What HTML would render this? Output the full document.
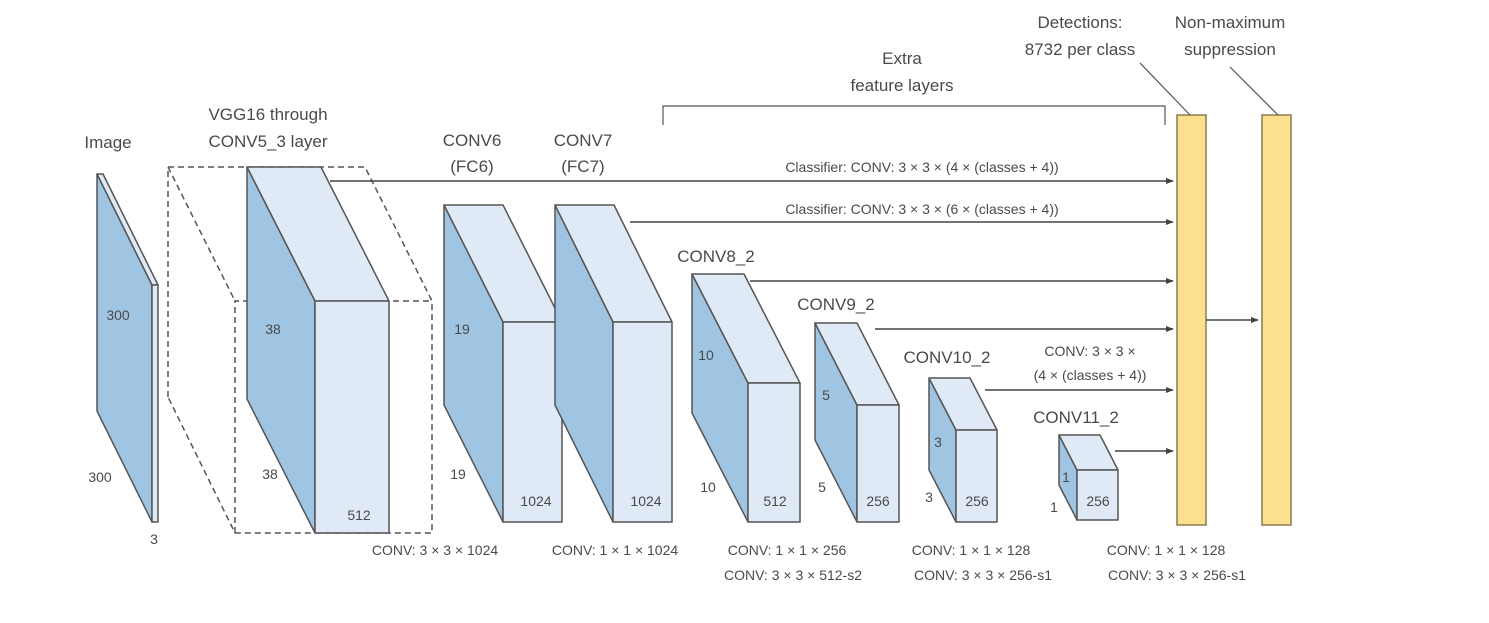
<!DOCTYPE html>
<html><head><meta charset="utf-8"><style>
html,body{margin:0;padding:0;background:#fff;}
svg text{font-family:"Liberation Sans",sans-serif;fill:#4a4a4a;}
</style></head><body>
<svg id="d" width="1489" height="618" viewBox="0 0 1489 618" xmlns="http://www.w3.org/2000/svg">
<defs><marker id="ah" markerWidth="8" markerHeight="8" refX="7" refY="4" orient="auto" markerUnits="userSpaceOnUse"><path d="M0,1 L8,4 L0,7 z" fill="#444"/></marker></defs>
<g id="dash" fill="none" stroke="#555" stroke-width="1.5" stroke-dasharray="6,4">
<polyline points="168,397 168,167 365,167 432,301 432,533 235,533 168,397"/>
<line x1="168" y1="167" x2="235" y2="301"/>
<polyline points="235,533 235,301 432,301"/>
</g>
<g id="boxes"></g>
<g id="lines" stroke="#444" stroke-width="1.5" fill="none"></g>
<rect x="1177" y="115" width="29" height="410" fill="#fde08e" stroke="#8a7a55" stroke-width="1.5"/>
<rect x="1262" y="115" width="29" height="410" fill="#fde08e" stroke="#8a7a55" stroke-width="1.5"/>
<g stroke="#555" stroke-width="1.2" fill="none">
<line x1="1140" y1="63" x2="1190" y2="115"/>
<line x1="1230" y1="67" x2="1278" y2="115"/>
<polyline points="663,125 663,106 1165,106 1165,125"/>
</g>
<line x1="1206" y1="320" x2="1258" y2="320" stroke="#444" stroke-width="1.5" marker-end="url(#ah)"/>
<g font-size="17" text-anchor="middle">
<text x="108" y="148">Image</text>
<text x="268" y="120">VGG16 through</text>
<text x="268" y="147">CONV5_3 layer</text>
<text x="472" y="146">CONV6</text>
<text x="472" y="172">(FC6)</text>
<text x="583" y="146">CONV7</text>
<text x="583" y="172">(FC7)</text>
<text x="716" y="262">CONV8_2</text>
<text x="836" y="310">CONV9_2</text>
<text x="947" y="363">CONV10_2</text>
<text x="1076" y="423">CONV11_2</text>
<text x="902" y="64">Extra</text>
<text x="902" y="91">feature layers</text>
<text x="1080" y="28">Detections:</text>
<text x="1080" y="55">8732 per class</text>
<text x="1230" y="28">Non-maximum</text>
<text x="1230" y="55">suppression</text>
</g>
<g font-size="14" text-anchor="middle">
<text x="922" y="172">Classifier: CONV: 3 × 3 × (4 × (classes + 4))</text>
<text x="922" y="214">Classifier: CONV: 3 × 3 × (6 × (classes + 4))</text>
<text x="1090" y="356">CONV: 3 × 3 ×</text>
<text x="1090" y="380">(4 × (classes + 4))</text>
<text x="435" y="555">CONV: 3 × 3 × 1024</text>
<text x="615" y="555">CONV: 1 × 1 × 1024</text>
<text x="787" y="555">CONV: 1 × 1 × 256</text>
<text x="793" y="580">CONV: 3 × 3 × 512-s2</text>
<text x="971" y="555">CONV: 1 × 1 × 128</text>
<text x="983" y="580">CONV: 3 × 3 × 256-s1</text>
<text x="1166" y="555">CONV: 1 × 1 × 128</text>
<text x="1177" y="580">CONV: 3 × 3 × 256-s1</text>
<text x="118" y="320">300</text>
<text x="100" y="482">300</text>
<text x="154" y="544">3</text>
<text x="273" y="334">38</text>
<text x="270" y="479">38</text>
<text x="359" y="520">512</text>
<text x="462" y="334">19</text>
<text x="458" y="479">19</text>
<text x="536" y="506">1024</text>
<text x="646" y="506">1024</text>
<text x="706" y="360">10</text>
<text x="708" y="492">10</text>
<text x="775" y="506">512</text>
<text x="826" y="400">5</text>
<text x="822" y="492">5</text>
<text x="878" y="506">256</text>
<text x="938" y="447">3</text>
<text x="929" y="502">3</text>
<text x="977" y="506">256</text>
<text x="1066" y="482">1</text>
<text x="1054" y="512">1</text>
<text x="1098" y="506">256</text>
</g>
</svg>
<script>
// cuboid geometry: back-top-left x,y; depth offset dx,dy; front width; height
const boxNames=['image','vgg16','conv6','conv7','conv8-2','conv9-2','conv10-2','conv11-2'];
const bx=[97,247,444,555,692,815,929,1059];
const by=[174,167,205,205,274,323,378,435];
const bdx=[55,68,59,58,56,42,27,18];
const bdy=[111,134,117,117,109,82,52,35];
const bw=[6,74,59,59,52,42,41,41];
const bh=[237,232,200,200,139,117,92,50];
const arrowY=[181,222,281,329,390,451];
const arrowX0=[330,630,750,875,985,1115];
const NS='http://www.w3.org/2000/svg';
const g=document.getElementById('boxes');
function poly(pts,fill,name){const p=document.createElementNS(NS,'polygon');p.setAttribute('points',pts.map(a=>a.join(',')).join(' '));p.setAttribute('fill',fill);p.setAttribute('stroke','#555');p.setAttribute('stroke-width','1.5');p.setAttribute('stroke-linejoin','round');


g.appendChild(p);}
for(let i=0;i<bx.length;i++){
 const x=bx[i],y=by[i],dx=bdx[i],dy=bdy[i],w=bw[i],h=bh[i];
 poly([[x,y],[x+dx,y+dy],[x+dx,y+dy+h],[x,y+h]],'#9fc5e2',boxNames[i]+'-side');
 poly([[x,y],[x+w,y],[x+w+dx,y+dy],[x+dx,y+dy]],'#dfeaf6',boxNames[i]+'-top');
 poly([[x+dx,y+dy],[x+dx+w,y+dy],[x+dx+w,y+dy+h],[x+dx,y+dy+h]],'#dfeaf6',boxNames[i]+'-front');
}
const L=document.getElementById('lines');
for(let i=0;i<arrowY.length;i++){
 const l=document.createElementNS(NS,'line');
 l.setAttribute('x1',arrowX0[i]);l.setAttribute('x2',1173);l.setAttribute('y1',arrowY[i]);l.setAttribute('y2',arrowY[i]);
 l.setAttribute('marker-end','url(#ah)');
 
 
 L.appendChild(l);
}
</script>
</body></html>
